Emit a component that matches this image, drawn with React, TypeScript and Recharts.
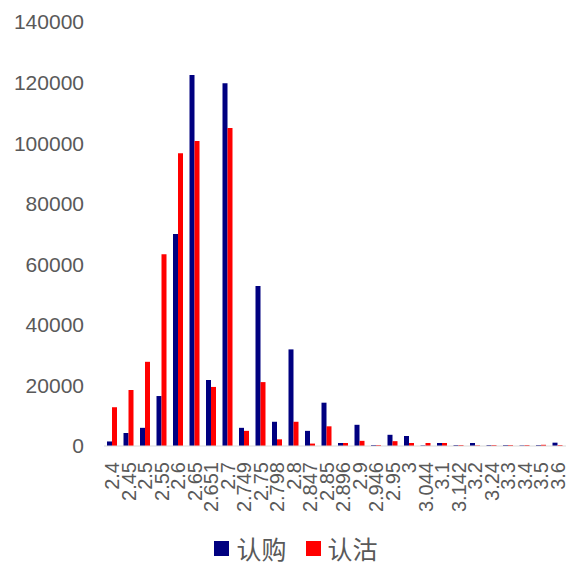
import React from "react";
import { BarChart, Bar, XAxis, YAxis, Legend } from "recharts";

const categories = ["2.4","2.45","2.5","2.55","2.6","2.65","2.651","2.7","2.749","2.75","2.798","2.8","2.847","2.85","2.896","2.9","2.946","2.95","3","3.044","3.1","3.142","3.2","3.24","3.3","3.4","3.5","3.6"];
const callValues = [1500,4300,6000,16500,70000,122500,21800,119800,6000,52800,8000,31900,5000,14300,1000,7000,300,3700,3300,200,1000,300,1000,300,300,200,300,1100];
const putValues = [12800,18500,27800,63300,96700,100700,19500,105000,5000,21100,2200,8000,800,6500,1000,1700,300,1600,1000,1000,1000,300,200,300,300,300,400,300];
const yTicks = [0,20000,40000,60000,80000,100000,120000,140000];

const data = categories.map((c, i) => ({ strike: c, call: callValues[i], put: putValues[i] }));

const FONT = "'Liberation Sans', Arial, sans-serif";
const GRAY = "#595959";

const XTick = (props: any) => {
  const { x, y, payload } = props;
  return (
    <text
      transform={`translate(${x},${y + 8}) rotate(-90)`}
      textAnchor="end"
      dominantBaseline="central"
      fontFamily={FONT}
      fontSize={20}
      fill={GRAY}
    >
      {payload.value}
    </text>
  );
};

const LegendContent = () => (
  <div style={{ display: "flex", justifyContent: "center", alignItems: "center", height: 36, fontFamily: "'Noto Sans CJK SC', sans-serif", fontSize: 25, color: GRAY, paddingLeft: 26 }}>
    <span style={{ display: "inline-block", width: 15, height: 15, background: "#000080", marginRight: 7 }} />
    <span style={{ marginRight: 19 }}>认购</span>
    <span style={{ display: "inline-block", width: 15, height: 15, background: "#FF0000", marginRight: 7 }} />
    <span>认沽</span>
  </div>
);

export default function App() {
  return (
    <div style={{ position: "absolute", left: 0, top: 0 }}>
      <BarChart width={571} height={566} data={data} margin={{ top: 22, right: 5, bottom: 0, left: 0 }} barGap={0} barSize={5}>
        <XAxis dataKey="strike" interval={0} tick={<XTick />} tickLine={false} axisLine={{ stroke: "#d9d9d9" }} height={84} />
        <YAxis domain={[0, 140000]} ticks={yTicks} width={104} axisLine={false} tickLine={false} tickMargin={14} tick={{ fontFamily: FONT, fontSize: 21, fill: GRAY }} />
        <Legend verticalAlign="bottom" height={36} content={<LegendContent />} />
        <Bar dataKey="call" name="认购" fill="#000080" isAnimationActive={false} />
        <Bar dataKey="put" name="认沽" fill="#FF0000" isAnimationActive={false} />
      </BarChart>
    </div>
  );
}
